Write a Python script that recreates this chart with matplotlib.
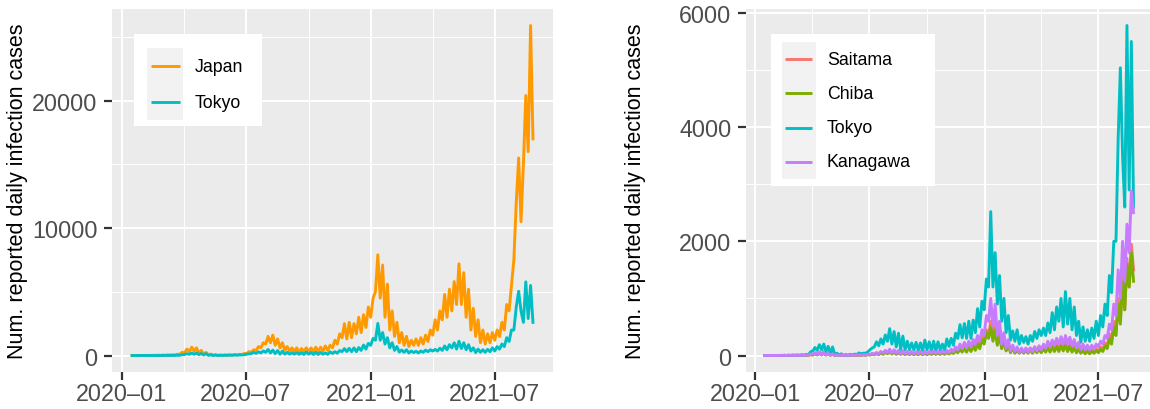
"""Daily reported infection cases: Japan vs Tokyo, and the four Kanto prefectures."""

import matplotlib

matplotlib.use("Agg")
import matplotlib.dates as mdates
import matplotlib.pyplot as plt
import numpy as np
from matplotlib.lines import Line2D
from matplotlib.patches import Rectangle
from matplotlib.ticker import MultipleLocator

W, H = 1150, 410

# Readings taken twice a week (every 84 h) from 2020-01-16, last one 2021-08-26.
START = "2020-01-16"
STEP_HOURS = 84

japan = [
    0, 2, 1, 3, 2, 5, 2, 8, 5, 15, 10, 25, 15, 30,
    20, 50, 30, 60, 40, 100, 90, 250, 200, 500, 300, 650, 350, 600,
    150, 400, 100, 250, 40, 120, 20, 60, 15, 40, 20, 50, 30, 60,
    30, 70, 40, 90, 80, 150, 150, 300, 250, 450, 400, 700, 600, 1000,
    900, 1500, 1000, 1600, 800, 1300, 600, 1000, 400, 700, 350, 600, 300, 600,
    250, 550, 300, 600, 300, 600, 300, 650, 300, 650, 350, 750, 400, 800,
    600, 1200, 900, 1700, 1400, 2500, 1300, 2600, 1400, 2500, 1700, 3000, 1800, 3200,
    2200, 3800, 3000, 4500, 5000, 7900, 4500, 7100, 3000, 5600, 2000, 3500, 1500, 2600,
    1000, 1800, 800, 1500, 700, 1200, 800, 1300, 800, 1400, 900, 1600, 1100, 2000,
    1600, 2800, 2000, 3500, 2800, 4800, 3000, 5200, 3500, 5800, 4000, 7200, 4000, 6500,
    3000, 5200, 2000, 3700, 1500, 2800, 1000, 2000, 900, 1700, 1000, 1800, 1200, 2000,
    1500, 2600, 2000, 4000, 3500, 5500, 7500, 12000, 15500, 10500, 15000, 20400, 16000, 25900,
    17000,
]

tokyo = [
    0, 1, 0, 1, 0, 2, 0, 2, 1, 3, 1, 5, 2, 6,
    3, 8, 4, 10, 5, 20, 13, 65, 80, 140, 90, 190, 100, 200,
    70, 160, 40, 150, 15, 40, 5, 30, 2, 15, 5, 20, 10, 25,
    15, 45, 30, 40, 40, 60, 100, 130, 150, 240, 170, 290, 200, 360,
    250, 470, 200, 420, 150, 390, 100, 340, 100, 250, 100, 220, 100, 230,
    90, 220, 80, 270, 100, 240, 80, 250, 80, 240, 100, 200, 90, 290,
    160, 300, 180, 390, 300, 540, 310, 560, 300, 600, 300, 620, 400, 820,
    500, 950, 800, 1340, 1200, 2520, 1200, 1800, 900, 1400, 600, 1000, 400, 700,
    270, 430, 250, 450, 200, 350, 230, 330, 200, 350, 250, 420, 300, 450,
    350, 480, 350, 570, 400, 750, 450, 850, 600, 1000, 500, 1120, 550, 1000,
    450, 850, 350, 600, 230, 500, 250, 450, 250, 480, 300, 600, 350, 700,
    500, 900, 700, 1400, 1100, 2000, 2000, 3800, 5040, 3500, 2600, 5780, 2900, 5500,
    2600,
]

saitama = [
    0, 0, 0, 1, 0, 1, 0, 1, 0, 2, 0, 2, 1, 3,
    1, 4, 2, 5, 3, 8, 5, 20, 10, 40, 15, 60, 20, 70,
    15, 50, 8, 30, 3, 15, 1, 8, 1, 6, 1, 8, 2, 8,
    3, 10, 4, 15, 6, 20, 10, 30, 15, 45, 20, 60, 30, 70,
    40, 80, 35, 75, 30, 70, 25, 60, 20, 50, 20, 50, 20, 45,
    20, 50, 20, 55, 20, 50, 25, 60, 25, 60, 25, 65, 30, 70,
    35, 80, 50, 110, 70, 150, 80, 180, 90, 200, 100, 230, 130, 270,
    170, 350, 250, 450, 350, 600, 300, 550, 200, 400, 130, 280, 90, 200,
    60, 140, 50, 120, 50, 110, 60, 120, 60, 130, 70, 150, 70, 160,
    80, 170, 90, 200, 100, 220, 100, 230, 110, 240, 120, 250, 110, 230,
    90, 200, 70, 160, 50, 120, 40, 110, 40, 100, 50, 120, 60, 150,
    90, 220, 150, 380, 250, 600, 400, 1000, 600, 1400, 800, 1700, 1200, 1950,
    1500,
]

chiba = [
    0, 0, 0, 1, 0, 1, 0, 1, 0, 2, 0, 2, 1, 3,
    1, 3, 1, 4, 2, 6, 4, 15, 8, 30, 10, 40, 10, 40,
    8, 30, 5, 20, 2, 10, 1, 6, 1, 4, 1, 5, 1, 6,
    2, 8, 3, 10, 5, 15, 8, 25, 12, 35, 15, 45, 20, 60,
    30, 70, 25, 60, 20, 50, 20, 45, 15, 40, 15, 40, 15, 35,
    15, 40, 15, 40, 15, 40, 20, 45, 20, 45, 20, 50, 20, 55,
    25, 60, 35, 80, 50, 110, 60, 130, 60, 140, 70, 160, 90, 200,
    120, 280, 200, 400, 300, 500, 250, 450, 180, 350, 120, 250, 80, 180,
    50, 130, 40, 100, 40, 90, 40, 90, 40, 100, 40, 100, 50, 110,
    50, 120, 60, 140, 60, 150, 70, 160, 70, 170, 80, 180, 70, 160,
    60, 140, 50, 110, 40, 90, 30, 80, 30, 80, 40, 90, 50, 110,
    70, 170, 120, 300, 200, 500, 350, 900, 550, 1300, 800, 1600, 1200, 1800,
    1300,
]

kanagawa = [
    0, 1, 0, 1, 0, 1, 0, 2, 0, 2, 1, 3, 1, 4,
    1, 4, 2, 6, 3, 10, 10, 25, 20, 50, 25, 60, 20, 55,
    10, 40, 5, 25, 2, 10, 1, 8, 1, 6, 2, 8, 3, 10,
    4, 12, 5, 15, 8, 20, 15, 35, 20, 50, 30, 70, 40, 90,
    50, 110, 40, 100, 40, 90, 30, 80, 30, 70, 30, 70, 30, 65,
    30, 70, 30, 70, 30, 70, 40, 80, 35, 75, 40, 80, 45, 90,
    50, 110, 70, 150, 100, 200, 120, 230, 130, 250, 150, 280, 200, 350,
    250, 450, 350, 700, 600, 1000, 500, 900, 350, 600, 200, 400, 130, 280,
    80, 180, 70, 150, 60, 130, 60, 130, 60, 130, 70, 150, 80, 170,
    100, 200, 130, 250, 150, 270, 180, 300, 200, 330, 200, 350, 200, 320,
    170, 280, 130, 230, 100, 200, 100, 180, 100, 180, 110, 200, 150, 250,
    200, 350, 300, 550, 450, 900, 700, 1500, 1000, 2000, 1300, 2300, 1800, 2880,
    2500,
]

LEFT_NAMES = ["Japan", "Tokyo"]
LEFT_SERIES = [japan, tokyo]
LEFT_COLORS = ["#FF9900", "#00BFC4"]

RIGHT_NAMES = ["Saitama", "Chiba", "Tokyo", "Kanagawa"]
RIGHT_SERIES = [saitama, chiba, tokyo, kanagawa]
RIGHT_COLORS = ["#F8766D", "#7CAE00", "#00BFC4", "#C77CFF"]

PANEL = "#EBEBEB"
KEY_BG = "#F2F2F2"
TICK_TEXT = "#4D4D4D"
TICK_MARK = "#333333"
YLABEL = "Num. reported daily infection cases"
LINE_W = 2.1


def fx(x):
    return x / W


def fy(y):
    return 1 - y / H


def dates(n):
    d = np.datetime64(START) + np.arange(n) * np.timedelta64(STEP_HOURS, "h")
    return mdates.date2num(d)


def style_axes(ax, x, top, major, minor):
    ax.set_facecolor(PANEL)
    for spine in ax.spines.values():
        spine.set_visible(False)
    span = x[-1] - x[0]
    ax.set_xlim(x[0] - 0.05 * span, x[-1] + 0.05 * span)
    ax.set_ylim(-0.05 * top, 1.05 * top)

    ax.xaxis.set_major_locator(mdates.MonthLocator(bymonth=[1, 7]))
    ax.xaxis.set_minor_locator(mdates.MonthLocator(bymonth=[4, 10]))
    ax.xaxis.set_major_formatter(mdates.DateFormatter("%Y\u2013%m"))
    ax.yaxis.set_major_locator(MultipleLocator(major))
    ax.yaxis.set_minor_locator(MultipleLocator(minor))

    ax.grid(which="major", color="white", lw=1.4)
    ax.grid(which="minor", color="white", lw=0.7)
    ax.set_axisbelow(True)
    ax.tick_params(which="major", length=5.5, width=1.6, color=TICK_MARK,
                   labelcolor=TICK_TEXT, labelsize=16.8)
    ax.tick_params(axis="x", which="major", pad=2)
    ax.tick_params(axis="y", which="major", pad=5)
    ax.tick_params(which="minor", length=0)


def draw_legend(fig, box, key_box, line_x, text_x, names, colors):
    x0, y0, x1, y1 = box
    fig.add_artist(Rectangle((fx(x0), fy(y1)), (x1 - x0) / W, (y1 - y0) / H,
                             transform=fig.transFigure, facecolor="white",
                             edgecolor="none", zorder=5))
    kx0, ky0, kx1, ky1 = key_box
    fig.add_artist(Rectangle((fx(kx0), fy(ky1)), (kx1 - kx0) / W, (ky1 - ky0) / H,
                             transform=fig.transFigure, facecolor=KEY_BG,
                             edgecolor="none", zorder=6))
    row = (ky1 - ky0) / len(names)
    for i, (name, color) in enumerate(zip(names, colors)):
        y = ky0 + row * (i + 0.5)
        fig.add_artist(Line2D([fx(line_x[0]), fx(line_x[1])], [fy(y), fy(y)],
                              transform=fig.transFigure, color=color,
                              lw=2.1, solid_capstyle="butt", zorder=7))
        fig.text(fx(text_x), fy(y), name, ha="left", va="center",
                 fontsize=12.8, color="black", zorder=8)


def main():
    plt.rcParams["font.family"] = ["Liberation Sans", "DejaVu Sans"]

    fig = plt.figure(figsize=(W / 100, H / 100), dpi=100)
    fig.patch.set_facecolor("white")

    ax_l = fig.add_axes([fx(112), fy(373), (553 - 112) / W, (373 - 10) / H])
    ax_r = fig.add_axes([fx(746), fy(373), (1152 - 746) / W, (373 - 10) / H])

    x = dates(len(japan))
    for values, color in zip(LEFT_SERIES, LEFT_COLORS):
        ax_l.plot(x, values, color=color, lw=LINE_W)
    style_axes(ax_l, x, max(japan), 10000, 5000)

    for values, color in zip(RIGHT_SERIES, RIGHT_COLORS):
        ax_r.plot(x, values, color=color, lw=LINE_W)
    style_axes(ax_r, x, max(tokyo), 2000, 1000)

    fig.text(fx(18), fy(191), YLABEL, rotation=90, ha="center", va="center",
             fontsize=15.5, color="black")
    fig.text(fx(636), fy(191), YLABEL, rotation=90, ha="center", va="center",
             fontsize=15.5, color="black")

    draw_legend(fig, (134, 35, 262, 127), (147, 49, 183, 121), (151, 180), 195,
                LEFT_NAMES, LEFT_COLORS)
    draw_legend(fig, (771, 35, 935, 187), (782, 43, 816, 180), (785, 812), 827,
                RIGHT_NAMES, RIGHT_COLORS)

    fig.savefig("out.png", dpi=100)
    plt.close(fig)


if __name__ == "__main__":
    main()
